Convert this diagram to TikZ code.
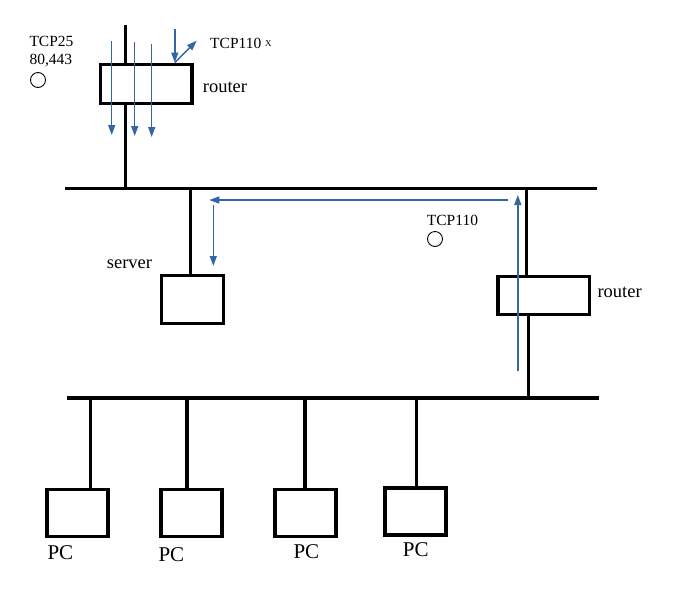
\documentclass[tikz,border=0pt]{standalone}
\usepackage{fontspec}
\setmainfont{Liberation Serif}
\usetikzlibrary{arrows.meta}

\definecolor{flowblue}{RGB}{52,101,164}

\tikzset{
  wire/.style={line width=3.4pt},
  box/.style={draw,line width=3.4pt,minimum width=61pt,minimum height=47pt,inner sep=0pt},
  flow/.style={line width=1.4pt,flowblue,-{Triangle[length=10pt,width=7pt]}},
  lbl/.style={anchor=base west,inner sep=0pt},
  port/.style={draw,circle,line width=0.9pt,minimum size=15pt,inner sep=0pt},
}

\begin{document}
\begin{tikzpicture}[x=1pt,y=-1pt]
\useasboundingbox (0,0) rectangle (680,590);

% the two segments
\coordinate (upw) at (65,188.3);
\coordinate (upe) at (597,188.3);
\coordinate (lanw) at (67,397.8);
\coordinate (lane) at (599,397.8);
\draw[wire] (upw) -- (upe);
\draw[wire] (lanw) -- (lane);

% devices
\node[box,minimum width=91.3pt,minimum height=39pt] (gw) at (146.3,84.2) {};
\node[box,minimum width=62pt,minimum height=47.8pt] (srv) at (192.5,299.6) {};
\node[box,minimum width=91.7pt,minimum height=38pt] (rt) at (543.8,295.5) {};
\node[box] (pc1) at (77.3,512.8) {};
\node[box] (pc2) at (191.3,512.8) {};
\node[box] (pc3) at (305.5,512.8) {};
\node[box] (pc4) at (415.3,511.3) {};

% links
\coordinate (wan) at (125.3,25);
\draw[wire] (wan) -- (wan |- gw.north);
\draw[wire] (wan |- gw.south) -- (wan |- upw);
\coordinate (srvtap) at (190.7,188.3);
\draw[wire] (srvtap) -- (srvtap |- srv.north);
\coordinate (rttap) at (526.5,188.3);
\draw[wire] (rttap) -- (rttap |- rt.north);
\coordinate (rtdown) at (528.5,397.8);
\draw[wire] (rtdown |- rt.south) -- (rtdown);
\foreach \n/\x in {1/90.5,2/187,3/305,4/416.7}{
  \coordinate (tap\n) at (\x,397.8);
  \draw[wire] (tap\n) -- (tap\n |- pc\n.north);
}

% labels
\node[lbl,font=\fontsize{15.5}{18}\selectfont] (t25) at (29.3,46.7) {TCP25};
\node[lbl,font=\fontsize{15.5}{18}\selectfont] (web) at (29.3,64) {80,443};
\node[port] (okgw) at (38,80) {};
\node[lbl,font=\fontsize{15.5}{18}\selectfont] (t110a) at (210,48.5) {TCP110 \raisebox{2pt}{\fontsize{9}{10}\selectfont X}};
\node[lbl,font=\fontsize{15.5}{18}\selectfont] (t110b) at (426.7,225) {TCP110};
\node[port] (okrt) at (435,239) {};
\node[lbl,font=\fontsize{18.5}{20}\selectfont] (gwname) at (202.7,92.7) {router};
\node[lbl,font=\fontsize{18.5}{20}\selectfont] (srvname) at (106.7,268.3) {server};
\node[lbl,font=\fontsize{18.5}{20}\selectfont] (rtname) at (597.3,297) {router};
\node[lbl,font=\fontsize{21}{24}\selectfont] (pcname1) at (47.3,559.3) {PC};
\node[lbl,font=\fontsize{21}{24}\selectfont] (pcname2) at (158.3,561.5) {PC};
\node[lbl,font=\fontsize{21}{24}\selectfont] (pcname3) at (293.3,558.5) {PC};
\node[lbl,font=\fontsize{21}{24}\selectfont] (pcname4) at (402.7,556.5) {PC};

% traffic
\coordinate (in1) at (111.7,41);
\coordinate (in2) at (134.7,42);
\coordinate (in3) at (151.7,44);
\draw[flow] (in1) -- (111.7,135);
\draw[flow] (in2) -- (134.7,136);
\draw[flow] (in3) -- (151.7,137);
\coordinate (pop) at (174.8,29);
\coordinate (bounce) at (174.8,62.5);
\draw[flow] (pop) -- (bounce);
\draw[flow] (bounce) -- (196.7,40.7);
\coordinate (lanup) at (517.8,371);
\coordinate (corner) at (508,200);
\draw[flow] (lanup) -- (517.8,195);
\draw[flow] (corner) -- (209.3,200);
\coordinate (srvin) at (213.3,205);
\draw[flow] (srvin) -- (213.3,266);
\end{tikzpicture}
\end{document}
